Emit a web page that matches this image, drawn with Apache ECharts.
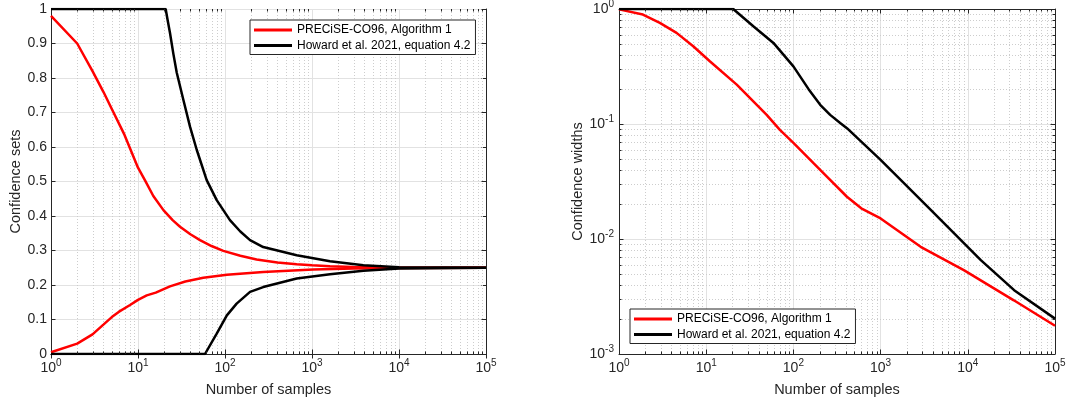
<!DOCTYPE html>
<html><head><meta charset="utf-8">
<script src="https://cdn.jsdelivr.net/npm/echarts@6/dist/echarts.min.js"></script>
<style>html,body{margin:0;padding:0;background:#fff}#c{width:1070px;height:404px}</style>
</head><body><div id="c"></div>
<script>
// ---------- data ----------
const legendNames = ['PRECiSE-CO96, Algorithm 1', 'Howard et al. 2021, equation 4.2'];
const leftYTicks = [0, 0.1, 0.2, 0.3, 0.4, 0.5, 0.6, 0.7, 0.8, 0.9, 1];

// Left: confidence sets (upper / lower bounds)
const setsRedUpperX = [1, 2, 3, 4, 5, 7, 10, 12, 15, 19.6, 25, 30.4, 40, 51.6, 70, 95.7, 150, 231, 400, 667, 1000, 1610, 3000, 6000, 10000, 100000];
const setsRedUpperY = [0.98, 0.90, 0.82, 0.76, 0.71, 0.635, 0.54, 0.504, 0.458, 0.417, 0.388, 0.369, 0.347, 0.33, 0.313, 0.299, 0.285, 0.274, 0.265, 0.26, 0.257, 0.254, 0.252, 0.251, 0.2505, 0.25];
const setsRedLowerX = [1, 2, 3, 4, 5, 6, 8.1, 10, 12.6, 16, 23.3, 35, 56.3, 105, 275, 1035, 3000, 10000, 100000];
const setsRedLowerY = [0.005, 0.03, 0.057, 0.085, 0.107, 0.122, 0.142, 0.157, 0.17, 0.178, 0.196, 0.21, 0.221, 0.23, 0.238, 0.245, 0.248, 0.2495, 0.25];
const setsBlackUpperX = [1, 20.8, 22, 23.3, 25.5, 27.9, 33.2, 39.6, 47.3, 61.6, 80.3, 114, 150, 194, 275, 667, 1610, 3900, 10000, 100000];
const setsBlackUpperY = [1, 1, 0.965, 0.931, 0.87, 0.815, 0.737, 0.659, 0.592, 0.504, 0.446, 0.388, 0.355, 0.33, 0.31, 0.286, 0.269, 0.257, 0.2515, 0.25];
const setsBlackLowerX = [1, 58.9, 80.3, 105, 136, 194, 275, 667, 1610, 3900, 10000, 100000];
const setsBlackLowerY = [0, 0, 0.059, 0.112, 0.146, 0.18, 0.194, 0.219, 0.231, 0.241, 0.248, 0.25];

// Right: confidence widths
const widthsRedX = [1, 1.88, 2.94, 4.57, 7.1, 11, 22.4, 49.4, 70, 100, 170, 242, 411, 600, 1000, 2880, 9000, 33700, 100000];
const widthsRedY = [0.993, 0.895, 0.758, 0.62, 0.474, 0.351, 0.22, 0.12, 0.089, 0.0686, 0.0456, 0.0349, 0.0233, 0.0185, 0.0151, 0.00855, 0.00536, 0.00293, 0.00176];
const widthsBlackX = [1, 20.4, 34.7, 59, 100, 150, 203, 264, 344, 411, 1000, 3760, 14100, 34000, 100000];
const widthsBlackY = [1, 1, 0.708, 0.507, 0.317, 0.2, 0.147, 0.12, 0.102, 0.092, 0.0488, 0.0179, 0.00655, 0.00359, 0.00203];

// ---------- styling ----------
const FONT = '"Liberation Sans", Arial, Helvetica, sans-serif';
const AX = '#262626';
const MAJOR_GRID = '#e2e2e2';
const MINOR_GRID = '#cdcdcd';
const RED = '#ff0000', BLACK = '#000000';

const zip = (xs, ys) => xs.map((x, i) => [x, ys[i]]);
const powLabel = v => '{b|10}{s|' + Math.round(Math.log10(v)) + '}';
const powRich = {
  b: { fontSize: 14, color: AX, fontFamily: FONT, lineHeight: 20 },
  s: { fontSize: 10, color: AX, fontFamily: FONT, lineHeight: 10, verticalAlign: 'top' }
};

function xLog(grid, pos, main) {
  return {
    type: 'log', logBase: 10, gridIndex: grid, position: pos, min: 1, max: 100000,
    axisLine: { show: true, lineStyle: { color: AX, width: 1 } },
    axisTick: { show: true, inside: true, length: 4.5, lineStyle: { color: AX } },
    axisLabel: main ? { show: true, margin: 4, formatter: powLabel, rich: powRich } : { show: false },
    splitLine: { show: main, lineStyle: { color: MAJOR_GRID, width: 1 } },
    name: main ? 'Number of samples' : '', nameLocation: 'middle', nameGap: 28,
    nameTextStyle: { fontSize: 14.5, color: AX, fontFamily: FONT }
  };
}
function yLinear(grid, pos, main) {
  return {
    type: 'value', gridIndex: grid, position: pos, min: 0, max: 1, interval: 0.1,
    axisLine: { show: true, lineStyle: { color: AX, width: 1 } },
    axisTick: { show: true, inside: true, length: 4.5, lineStyle: { color: AX } },
    axisLabel: main ? { show: true, margin: 4, fontSize: 14, color: AX, fontFamily: FONT,
      formatter: v => { const t = leftYTicks.find(k => Math.abs(k - v) < 1e-9); return t === undefined ? '' : String(t); } } : { show: false },
    splitLine: { show: main, lineStyle: { color: MAJOR_GRID, width: 1 } },
    name: main ? 'Confidence sets' : '', nameLocation: 'middle', nameGap: 28,
    nameTextStyle: { fontSize: 14.5, color: AX, fontFamily: FONT }
  };
}
function yLog(grid, pos, main) {
  return {
    type: 'log', logBase: 10, gridIndex: grid, position: pos, min: 0.001, max: 1,
    axisLine: { show: true, lineStyle: { color: AX, width: 1 } },
    axisTick: { show: true, inside: true, length: 4.5, lineStyle: { color: AX } },
    axisLabel: main ? { show: true, margin: 5, formatter: powLabel, rich: powRich } : { show: false },
    splitLine: { show: main, lineStyle: { color: MAJOR_GRID, width: 1 } },
    name: main ? 'Confidence widths' : '', nameLocation: 'middle', nameGap: 33,
    nameTextStyle: { fontSize: 14.5, color: AX, fontFamily: FONT }
  };
}
function line(name, color, data, xi, yi) {
  return { type: 'line', name, data, xAxisIndex: xi, yAxisIndex: yi, showSymbol: false, symbol: 'none',
    color, itemStyle: { color }, lineStyle: { color, width: 2.5 }, z: 3, silent: true, animation: false };
}
function legend(left, top) {
  return { left, top, orient: 'vertical', data: legendNames, selectedMode: false,
    icon: 'rect', itemWidth: 38, itemHeight: 3, itemGap: 3.5, padding: [4, 5, 3, 4],
    backgroundColor: '#fff', borderColor: AX, borderWidth: 1, borderRadius: 0,
    textStyle: { fontSize: 12, color: '#000', fontFamily: FONT } };
}

const chart = echarts.init(document.getElementById('c'));
chart.setOption({
  animation: false,
  backgroundColor: '#fff',
  grid: [
    { left: 51, top: 9, width: 435, height: 345, outerBoundsMode: 'none' },
    { left: 619, top: 9, width: 436, height: 345, outerBoundsMode: 'none' }
  ],
  xAxis: [xLog(0, 'bottom', true), xLog(0, 'top', false), xLog(1, 'bottom', true), xLog(1, 'top', false)],
  yAxis: [yLinear(0, 'left', true), yLinear(0, 'right', false), yLog(1, 'left', true), yLog(1, 'right', false)],
  legend: [legend(250, 20), legend(630, 309)],
  series: [
    line(legendNames[0], RED, zip(setsRedUpperX, setsRedUpperY), 0, 0),
    line(legendNames[0], RED, zip(setsRedLowerX, setsRedLowerY), 0, 0),
    line(legendNames[1], BLACK, zip(setsBlackUpperX, setsBlackUpperY), 0, 0),
    line(legendNames[1], BLACK, zip(setsBlackLowerX, setsBlackLowerY), 0, 0),
    line(legendNames[0], RED, zip(widthsRedX, widthsRedY), 2, 2),
    line(legendNames[1], BLACK, zip(widthsBlackX, widthsBlackY), 2, 2)
  ]
});

// ---------- minor grid lines and minor ticks through the axes' scales ----------
function minorValues(lo, hi) {
  const out = [];
  for (let e = lo; e < hi; e++) for (let k = 2; k <= 9; k++) out.push(k * Math.pow(10, e));
  return out;
}
const els = [];
function addVMinor(xi, yi, vals, yMin, yMax, withGrid) {
  const top = chart.convertToPixel({ yAxisIndex: yi }, yMax);
  const bot = chart.convertToPixel({ yAxisIndex: yi }, yMin);
  vals.forEach(v => {
    const x = Math.round(chart.convertToPixel({ xAxisIndex: xi }, v)) + 0.5;
    if (withGrid) els.push({ type: 'line', z: 1, silent: true, shape: { x1: x, y1: top, x2: x, y2: bot },
      style: { stroke: MINOR_GRID, lineWidth: 1, lineDash: [1, 2] } });
    els.push({ type: 'line', z: 5, silent: true, shape: { x1: x, y1: bot, x2: x, y2: bot - 2.5 }, style: { stroke: AX, lineWidth: 1 } });
    els.push({ type: 'line', z: 5, silent: true, shape: { x1: x, y1: top, x2: x, y2: top + 2.5 }, style: { stroke: AX, lineWidth: 1 } });
  });
}
function addHMinor(xi, yi, vals, xMin, xMax) {
  const l = chart.convertToPixel({ xAxisIndex: xi }, xMin);
  const r = chart.convertToPixel({ xAxisIndex: xi }, xMax);
  vals.forEach(v => {
    const y = Math.round(chart.convertToPixel({ yAxisIndex: yi }, v)) + 0.5;
    els.push({ type: 'line', z: 1, silent: true, shape: { x1: l, y1: y, x2: r, y2: y },
      style: { stroke: MINOR_GRID, lineWidth: 1, lineDash: [1, 2] } });
    els.push({ type: 'line', z: 5, silent: true, shape: { x1: l, y1: y, x2: l + 2.5, y2: y }, style: { stroke: AX, lineWidth: 1 } });
    els.push({ type: 'line', z: 5, silent: true, shape: { x1: r, y1: y, x2: r - 2.5, y2: y }, style: { stroke: AX, lineWidth: 1 } });
  });
}
addVMinor(0, 0, minorValues(0, 5), 0, 1, true);
addVMinor(2, 2, minorValues(0, 5), 0.001, 1, true);
addHMinor(2, 2, minorValues(-3, 0), 1, 100000);
chart.setOption({ graphic: { elements: els } });
</script>
</body></html>
